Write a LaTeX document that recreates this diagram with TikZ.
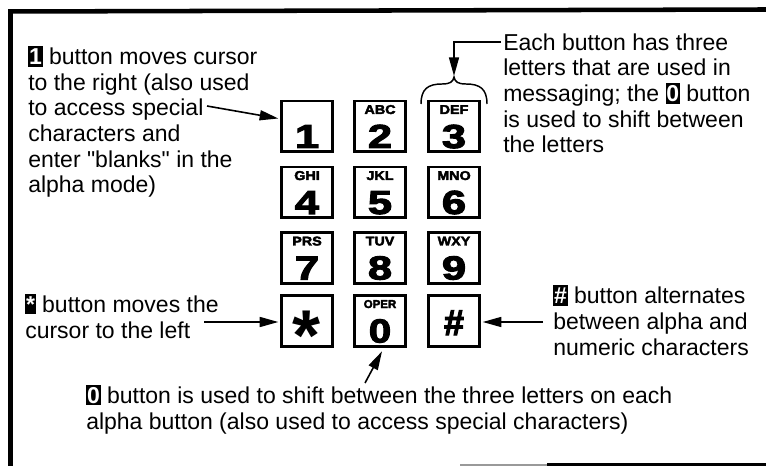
\documentclass[tikz,border=0pt]{standalone}
\usepackage{fontspec}
\setmainfont{Liberation Sans}[Ligatures=TeXOff]
\newfontfamily\keyfont[FakeBold=3]{Liberation Sans Bold}
\usetikzlibrary{arrows.meta}
\newcommand\invk[1]{{\setlength{\fboxsep}{0.6pt}\colorbox{black}{\textcolor{white}{\bfseries\rule[-0.06em]{0pt}{0.84em}#1}}}}
\newcommand\wdg[1]{\scalebox{1.3}[1]{#1}}
\newcommand\wlt[1]{\scalebox{1.12}[1]{#1}}
\newcommand\keyL[5]{%
  \node[keybox] (#1) at (#2,#3) {};
  \node[abc] (#1l) at ([shift={(0,-12.5)}]#1.center) {\wlt{#4}};
  \node[digit] (#1d) at ([shift={(0,21.5)}]#1.center) {\wdg{#5}};}
\begin{document}
\begin{tikzpicture}[x=0.75pt,y=-0.75pt,
  keybox/.style={draw, line width=2pt, minimum width=38.5pt, minimum height=38pt, inner sep=0pt, outer sep=0pt},
  digit/.style={anchor=base, inner sep=0pt, font=\fontsize{25}{25}\keyfont},
  abc/.style={anchor=base, inner sep=0pt, font=\fontsize{9.6}{9.6}\keyfont},
  starsty/.style={anchor=base, inner sep=0pt, font=\fontsize{54}{54}\selectfont\bfseries},
  txt/.style={anchor=base west, align=left, inner sep=0pt, font=\fontsize{17.25}{19.3}\selectfont},
  arr/.style={line width=1.2pt, -{Triangle[length=14pt,width=7.5pt]}},
  brc/.style={line width=1.1pt}]
\fill[white] (0,0) rectangle (766,466);
\useasboundingbox (0,0) rectangle (766,466);
% frame
\draw[line width=3.4pt] (8.5,11.5) -- (766,9.5);
\draw[line width=3.75pt] (10.8,9.3) -- (10.8,466);
\draw[line width=2.2pt] (547,464.8) -- (766,464.8);
\draw[line width=1.5pt, black!40] (460,465.2) -- (547,465.2);
% keys
\node[keybox] (b1) at (307,126.5) {};
\node[digit] (b1d) at ([shift={(0,21.5)}]b1.center) {\wdg{1}};
\keyL{b2}{380}{126.5}{ABC}{2}
\keyL{b3}{454}{126.5}{DEF}{3}
\keyL{b4}{307}{192.5}{GHI}{4}
\keyL{b5}{380}{192.5}{JKL}{5}
\keyL{b6}{454}{192.5}{MNO}{6}
\keyL{b7}{307}{258}{PRS}{7}
\keyL{b8}{380}{258}{TUV}{8}
\keyL{b9}{454}{258}{WXY}{9}
\node[keybox] (bs) at (307,321) {};
\node[starsty] (bsd) at ([shift={(0,39)}]bs.center) {*};
\node[keybox] (b0) at (380,321) {};
\node[abc, font=\fontsize{8.6}{8.6}\keyfont] (b0l) at ([shift={(0,-13)}]b0.center) {OPER};
\node[digit] (b0d) at ([shift={(0,21.5)}]b0.center) {\scalebox{1.2}[1]{0}};
\node[keybox] (bh) at (454,321) {};
\node[digit, font=\fontsize{27}{27}\keyfont] (bhd) at ([shift={(0,14)}]bh.center) {\#};
% texts (anchored at the baseline of their last line)
\node[txt] (t1) at (28,193) {\invk{1} button moves cursor\\to the right (also used\\to access special\\characters and\\enter "blanks" in the\\alpha mode)};
\node[txt] (t2) at (503,153) {Each button has three\\letters that are used in\\messaging; the \invk{0} button\\is used to shift between\\the letters};
\node[txt] (t3) at (25,338) {\invk{*} button moves the\\cursor to the left};
\node[txt] (t4) at (553,355) {\invk{\#} button alternates\\between alpha and\\numeric characters};
\node[txt] (t5) at (86,429) {\invk{0} button is used to shift between the three letters on each\\alpha button (also used to access special characters)};
% brace
\draw[brc] (421,104) .. controls (421,89) and (428,84) .. (442,84) .. controls (450,84) and (453,82) .. (454,77) .. controls (455,82) and (458,84) .. (466,84) .. controls (480,84) and (487,89) .. (487,104);
\coordinate (brt) at (454,76);
% connectors
\coordinate (s1) at (207,106);
\draw[arr] (s1) -- ([shift={(-3,-8)}]b1.west);
\coordinate (s2) at (501,42);
\draw[arr] (s2) -| (brt);
\coordinate (s3) at (204,322);
\draw[arr] (s3) -- ([shift={(-3,1)}]bs.west);
\coordinate (s4) at (543,322);
\draw[arr] (s4) -- ([shift={(3,1)}]bh.east);
\coordinate (s5) at (365,383);
\draw[arr] (s5) -- ([shift={(2,5)}]b0.south);
\end{tikzpicture}
\end{document}
